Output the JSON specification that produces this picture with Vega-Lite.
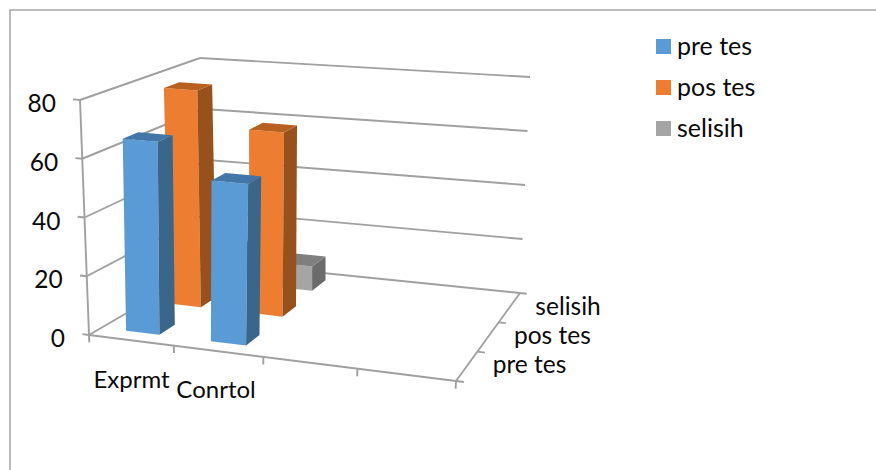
{
"$schema":"https://vega.github.io/schema/vega-lite/v6.json",
"width":870,"height":470,
"autosize":{"type":"none"},
"padding":{"left":10,"top":10,"right":0,"bottom":0},
"background":"white",
"view":{"stroke":"#a6a6a6","strokeWidth":1.5,"fill":"white"},
"config":{"font":"Lato"},
"data":{"values":[
{"kind":"bar","g":1,"s":2,"group":"Conrtol","series":"selisih","value":9},
{"kind":"bar","g":0,"s":2,"group":"Exprmt","series":"selisih","value":12},
{"kind":"bar","g":0,"s":1,"group":"Exprmt","series":"pos tes","value":77.5},
{"kind":"bar","g":1,"s":1,"group":"Conrtol","series":"pos tes","value":65},
{"kind":"bar","g":0,"s":0,"group":"Exprmt","series":"pre tes","value":66},
{"kind":"bar","g":1,"s":0,"group":"Conrtol","series":"pre tes","value":54.5},
{"kind":"line","id":"s0","u0":0,"v0":0,"h0":0,"u1":0,"v1":1,"h1":0},
{"kind":"line","id":"s20","u0":0,"v0":0,"h0":20,"u1":0,"v1":1,"h1":20},
{"kind":"line","id":"s40","u0":0,"v0":0,"h0":40,"u1":0,"v1":1,"h1":40},
{"kind":"line","id":"s60","u0":0,"v0":0,"h0":60,"u1":0,"v1":1,"h1":60},
{"kind":"line","id":"s80","u0":0,"v0":0,"h0":80,"u1":0,"v1":1,"h1":80},
{"kind":"line","id":"b0","u0":0,"v0":1,"h0":0,"u1":1,"v1":1,"h1":0},
{"kind":"line","id":"b20","u0":0,"v0":1,"h0":20,"u1":1,"v1":1,"h1":20},
{"kind":"line","id":"b40","u0":0,"v0":1,"h0":40,"u1":1,"v1":1,"h1":40},
{"kind":"line","id":"b60","u0":0,"v0":1,"h0":60,"u1":1,"v1":1,"h1":60},
{"kind":"line","id":"b80","u0":0,"v0":1,"h0":80,"u1":1,"v1":1,"h1":80},
{"kind":"line","id":"axis","u0":0,"v0":0,"h0":0,"u1":0,"v1":0,"h1":80},
{"kind":"line","id":"front","u0":0,"v0":0,"h0":0,"u1":1,"v1":0,"h1":0},
{"kind":"line","id":"right","u0":1,"v0":0,"h0":0,"u1":1,"v1":1,"h1":0},
{"kind":"line","id":"tl0","u0":0,"v0":0,"h0":0,"u1":-0.02,"v1":0,"h1":0},
{"kind":"line","id":"tl20","u0":0,"v0":0,"h0":20,"u1":-0.02,"v1":0,"h1":20},
{"kind":"line","id":"tl40","u0":0,"v0":0,"h0":40,"u1":-0.02,"v1":0,"h1":40},
{"kind":"line","id":"tl60","u0":0,"v0":0,"h0":60,"u1":-0.02,"v1":0,"h1":60},
{"kind":"line","id":"tl80","u0":0,"v0":0,"h0":80,"u1":-0.02,"v1":0,"h1":80},
{"kind":"line","id":"tf0","u0":0,"v0":0,"h0":0,"u1":0,"v1":0,"h1":-2.5},
{"kind":"line","id":"tf1","u0":0.25,"v0":0,"h0":0,"u1":0.25,"v1":0,"h1":-2.5},
{"kind":"line","id":"tf2","u0":0.5,"v0":0,"h0":0,"u1":0.5,"v1":0,"h1":-2.5},
{"kind":"line","id":"tf3","u0":0.75,"v0":0,"h0":0,"u1":0.75,"v1":0,"h1":-2.5},
{"kind":"line","id":"tf4","u0":1,"v0":0,"h0":0,"u1":1,"v1":0,"h1":-2.5},
{"kind":"line","id":"tr0","u0":1,"v0":0,"h0":0,"u1":1.02,"v1":0,"h1":0},
{"kind":"line","id":"tr1","u0":1,"v0":0.3333,"h0":0,"u1":1.02,"v1":0.3333,"h1":0},
{"kind":"line","id":"tr2","u0":1,"v0":0.6667,"h0":0,"u1":1.02,"v1":0.6667,"h1":0},
{"kind":"line","id":"tr3","u0":1,"v0":1,"h0":0,"u1":1.02,"v1":1,"h1":0},
{"kind":"hlabel","label":"80","u0":0,"v0":0,"h0":80},
{"kind":"hlabel","label":"60","u0":0,"v0":0,"h0":60},
{"kind":"hlabel","label":"40","u0":0,"v0":0,"h0":40},
{"kind":"hlabel","label":"20","u0":0,"v0":0,"h0":20},
{"kind":"hlabel","label":"0","u0":0,"v0":0,"h0":0},
{"kind":"xlabel","label":"Exprmt","u0":0.133,"v0":0,"h0":0},
{"kind":"xlabel","label":"Conrtol","u0":0.375,"v0":0,"h0":0},
{"kind":"slabel","label":"pre tes","u0":1,"v0":0.1667,"h0":0},
{"kind":"slabel","label":"pos tes","u0":1,"v0":0.5,"h0":0},
{"kind":"slabel","label":"selisih","u0":1,"v0":0.8333,"h0":0}
]},
"transform":[
{"calculate":"(datum.g+0.3)/4","as":"ul"},
{"calculate":"(datum.g+0.7)/4","as":"ur"},
{"calculate":"(datum.s+0.3)/3","as":"vf"},
{"calculate":"(datum.s+0.7)/3","as":"vb"},
{"calculate":"datum.kind=='bar' ? [{f:'front',i:0,U:datum.ul,V:datum.vf,H:0},{f:'front',i:1,U:datum.ur,V:datum.vf,H:0},{f:'front',i:2,U:datum.ur,V:datum.vf,H:datum.value},{f:'front',i:3,U:datum.ul,V:datum.vf,H:datum.value},{f:'side',i:0,U:datum.ur,V:datum.vf,H:0},{f:'side',i:1,U:datum.ur,V:datum.vb,H:0},{f:'side',i:2,U:datum.ur,V:datum.vb,H:datum.value},{f:'side',i:3,U:datum.ur,V:datum.vf,H:datum.value},{f:'top',i:0,U:datum.ul,V:datum.vf,H:datum.value},{f:'top',i:1,U:datum.ur,V:datum.vf,H:datum.value},{f:'top',i:2,U:datum.ur,V:datum.vb,H:datum.value},{f:'top',i:3,U:datum.ul,V:datum.vb,H:datum.value}] : datum.kind=='line' ? [{f:'',i:0,U:datum.u0,V:datum.v0,H:datum.h0},{f:'',i:1,U:datum.u1,V:datum.v1,H:datum.h1}] : [{f:'',i:0,U:datum.u0,V:datum.v0,H:datum.h0}]","as":"c"},
{"flatten":["c"]},
{"calculate":"datum.c.U*(0.9+0.1*datum.c.U)","as":"uw"},
{"calculate":"datum.c.V","as":"vv"},
{"calculate":"datum.c.H/80","as":"hh"},
{"calculate":"datum.c.i","as":"idx"},
{"calculate":"datum.series+'|'+datum.c.f","as":"faceKey"},
{"calculate":"datum.group+'|'+datum.series+'|'+datum.c.f","as":"pathId"},
{"calculate":"(1-datum.vv)*((1-datum.uw)*89+datum.uw*456)+datum.vv*((1-datum.uw)*214+datum.uw*520)","as":"x0"},
{"calculate":"(1-datum.vv)*((1-datum.uw)*80+datum.uw*468)+datum.vv*((1-datum.uw)*200+datum.uw*530)","as":"x1"},
{"calculate":"(1-datum.vv)*((1-datum.uw)*335+datum.uw*381)+datum.vv*((1-datum.uw)*262+datum.uw*293)","as":"y0"},
{"calculate":"(1-datum.vv)*((1-datum.uw)*100+datum.uw*133)+datum.vv*((1-datum.uw)*58+datum.uw*77)","as":"y1"},
{"calculate":"datum.x0+(datum.x1-datum.x0)*datum.hh+(datum.kind=='bar' ? [0,3,-1][datum.s]+4*datum.hh : 0)","as":"px"},
{"calculate":"datum.y0+(datum.y1-datum.y0)*datum.hh+(datum.kind=='bar' ? [0,-2.5,-2][datum.s] : 0)","as":"py"}
],
"encoding":{
"x":{"field":"px","type":"quantitative","scale":{"domain":[10,880],"nice":false,"zero":false},"axis":null},
"y":{"field":"py","type":"quantitative","scale":{"domain":[480,10],"nice":false,"zero":false},"axis":null}
},
"layer":[
{"transform":[{"filter":"datum.kind=='line'"}],
"mark":{"type":"line","color":"#a0a0a0","strokeWidth":1.9},
"encoding":{"detail":{"field":"id"},"order":{"field":"idx"}}},
{"transform":[{"filter":"datum.kind=='bar'"}],
"mark":{"type":"line","filled":true,"strokeWidth":0},
"encoding":{"detail":{"field":"pathId"},"order":{"field":"idx"},
"color":{"field":"faceKey","type":"nominal","legend":null,"scale":{
"domain":["pre tes|front","pre tes|side","pre tes|top","pos tes|front","pos tes|side","pos tes|top","selisih|front","selisih|side","selisih|top"],
"range":["#5b9bd5","#3a6689","#4276a8","#ed7d31","#97511c","#b8601f","#a5a5a5","#6b6b6b","#7f7f7f"]}}}},
{"transform":[{"filter":"datum.kind=='hlabel'"}],
"mark":{"type":"text","align":"right","baseline":"middle","dx":-24,"dy":5,"fontSize":24.5,"font":"Lato","color":"#0a0a0a"},
"encoding":{"text":{"field":"label"}}},
{"transform":[{"filter":"datum.kind=='xlabel'"}],
"mark":{"type":"text","align":"center","baseline":"middle","dx":-2,"dy":40,"fontSize":24,"font":"Lato","color":"#0a0a0a"},
"encoding":{"text":{"field":"label"}}},
{"transform":[{"filter":"datum.kind=='slabel'"}],
"mark":{"type":"text","align":"left","baseline":"middle","dx":26,"dy":0,"fontSize":24.5,"font":"Lato","color":"#0a0a0a"},
"encoding":{"text":{"field":"label"}}},
{"transform":[{"filter":"false"}],
"mark":{"type":"square"},
"encoding":{"fill":{"field":"series","type":"nominal","scale":{"domain":["pre tes","pos tes","selisih"],"range":["#5b9bd5","#ed7d31","#a5a5a5"]},
"legend":{"title":null,"orient":"none","legendX":641,"legendY":24,"symbolType":"square","symbolSize":225,"symbolStrokeWidth":0,"symbolOpacity":1,"labelFont":"Lato","labelFontSize":25,"labelColor":"#0a0a0a","labelOffset":1,"rowPadding":15,"padding":0}}}}
]
}
